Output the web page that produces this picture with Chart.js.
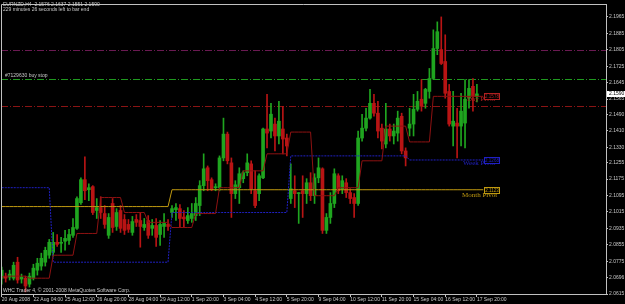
<!DOCTYPE html>
<html>
<head>
<meta charset="utf-8">
<script src="https://cdn.jsdelivr.net/npm/chart.js@4.4.1/dist/chart.umd.min.js"></script>
<style>
  html, body { margin: 0; background: #000; }
  #wrap { width: 625px; height: 304px; position: relative; }
</style>
</head>
<body>
<div id="wrap"><canvas id="chart"></canvas></div>
<script>
// EURNZD H4 candles, bar 0 = 20 Aug 2008 20:00, last bar = 17 Sep 20:00
const opens = [2.0692,2.0702,2.0697,2.0692,2.0770,2.0688,2.0692,2.0663,2.0692,2.0731,2.0751,2.0770,2.0804,2.0818,2.0867,2.0862,2.0872,2.0876,2.0901,2.0935,
  2.1060,2.1172,2.1123,2.1138,2.1022,2.1036,2.1007,2.0901,2.1056,2.0944,2.1022,2.0978,2.0954,2.0915,2.0978,2.0973,2.0939,2.0973,2.0935,2.0949,
  2.0905,2.0944,2.0954,2.1012,2.1026,2.1031,2.0990,2.0973,2.0983,2.0997,2.1046,2.1143,2.1230,2.1172,2.1133,2.1133,2.1278,2.1394,2.1254,2.1104,
  2.1133,2.1177,2.1206,2.1249,2.1118,2.1104,2.1181,2.1419,2.1409,2.1443,2.1385,2.1419,2.1375,2.1080,2.1118,2.1104,2.1118,2.1104,2.1157,2.1094,
  2.1181,2.1225,2.0925,2.0988,2.1056,2.1191,2.1128,2.1157,2.1109,2.1085,2.1056,2.1375,2.1423,2.1472,2.1544,2.1496,2.1423,2.1346,2.1419,2.1385,
  2.1399,2.1481,2.1312,2.1423,2.1443,2.1515,2.1564,2.1544,2.1602,2.1665,2.1811,2.1806,2.1748,2.1602,2.1433,2.1448,2.1433,2.1448,2.1569,2.1627,
  2.1576];
const highs = [2.0746,2.0717,2.0731,2.0770,2.0794,2.0712,2.0702,2.0717,2.0760,2.0789,2.0814,2.0843,2.0881,2.0915,2.0905,2.0891,2.0925,2.0930,2.0983,2.1089,
  2.1181,2.1283,2.1152,2.1143,2.1080,2.1089,2.1046,2.1007,2.1080,2.1031,2.1046,2.1002,2.0978,2.0993,2.1002,2.1012,2.0983,2.0997,2.0978,2.0983,
  2.0973,2.1007,2.0978,2.1046,2.1056,2.1051,2.1022,2.1036,2.1056,2.1085,2.1167,2.1298,2.1239,2.1181,2.1152,2.1288,2.1472,2.1404,2.1278,2.1167,
  2.1230,2.1215,2.1298,2.1264,2.1215,2.1201,2.1423,2.1588,2.1544,2.1472,2.1554,2.1530,2.1394,2.1249,2.1191,2.1109,2.1191,2.1177,2.1206,2.1201,
  2.1278,2.1230,2.1007,2.1109,2.1225,2.1201,2.1191,2.1177,2.1128,2.1104,2.1409,2.1491,2.1520,2.1612,2.1588,2.1554,2.1443,2.1544,2.1443,2.1443,
  2.1506,2.1496,2.1327,2.1520,2.1588,2.1602,2.1660,2.1617,2.1714,2.1902,2.1941,2.1965,2.1878,2.1636,2.1602,2.1520,2.1593,2.1660,2.1660,2.1665,
  2.1637];
const lows = [2.0663,2.0673,2.0683,2.0683,2.0668,2.0668,2.0625,2.0649,2.0683,2.0707,2.0731,2.0751,2.0789,2.0799,2.0847,2.0818,2.0828,2.0857,2.0891,2.0930,
  2.1051,2.1075,2.1070,2.1002,2.0983,2.0983,2.0935,2.0886,2.0915,2.0925,2.0915,2.0905,2.0915,2.0901,2.0944,2.0843,2.0925,2.0886,2.0901,2.0847,
  2.0852,2.0891,2.0925,2.0988,2.0973,2.0939,2.0939,2.0959,2.0964,2.0973,2.0997,2.1118,2.1118,2.1118,2.1118,2.1118,2.1264,2.1249,2.0988,2.1080,
  2.1056,2.1157,2.1191,2.1104,2.1036,2.1070,2.1177,2.1327,2.1375,2.1312,2.1346,2.1298,2.1288,2.1056,2.1036,2.0959,2.0988,2.1056,2.1070,2.1056,
  2.1157,2.0910,2.0910,2.0959,2.1036,2.1104,2.1104,2.1085,2.1056,2.0988,2.1046,2.1360,2.1409,2.1467,2.1481,2.1375,2.1322,2.1327,2.1360,2.1346,
  2.1360,2.1298,2.1239,2.1385,2.1385,2.1506,2.1506,2.1520,2.1569,2.1660,2.1781,2.1733,2.1569,2.1433,2.1336,2.1278,2.1336,2.1327,2.1520,2.1506,
  2.1551];
const closes = [2.0731,2.0692,2.0712,2.0755,2.0683,2.0697,2.0654,2.0702,2.0741,2.0765,2.0789,2.0828,2.0867,2.0867,2.0857,2.0864,2.0886,2.0905,2.0939,2.1080,
  2.1172,2.1118,2.1133,2.1012,2.1036,2.1012,2.0954,2.0988,2.0939,2.1012,2.0935,2.0925,2.0930,2.0968,2.0964,2.0944,2.0954,2.0901,2.0949,2.0891,
  2.0954,2.0959,2.0944,2.1031,2.1036,2.0983,2.0981,2.0997,2.1007,2.1056,2.1143,2.1225,2.1167,2.1123,2.1135,2.1278,2.1394,2.1264,2.1104,2.1147,
  2.1201,2.1206,2.1254,2.1128,2.1046,2.1191,2.1419,2.1399,2.1491,2.1385,2.1457,2.1370,2.1336,2.1128,2.1104,2.1106,2.1104,2.1157,2.1094,2.1181,
  2.1230,2.0925,2.0988,2.1056,2.1201,2.1118,2.1167,2.1109,2.1080,2.1056,2.1375,2.1423,2.1472,2.1544,2.1496,2.1409,2.1360,2.1419,2.1385,2.1409,
  2.1472,2.1312,2.1278,2.1443,2.1515,2.1554,2.1530,2.1612,2.1665,2.1811,2.1893,2.1738,2.1593,2.1443,2.1457,2.1433,2.1506,2.1564,2.1617,2.1578,
  2.1590];

// pivot levels (first bar of each period and its value)
const dayStarts = [0,1,7,13,19,25,31,37,43,49,55,61,67,73,79,85,91,97,103,109,115];
const dayPivot = [2.0697,2.0702,2.0692,2.0804,2.0910,2.1085,2.1012,2.0964,2.0939,2.1007,2.1133,2.1215,2.1298,2.1404,2.1094,2.1133,2.1264,2.1433,2.1356,2.1578,2.1578];
const weekStarts = [0,13,43,73,103];
const weekPivot = [2.1133,2.0770,2.1012,2.1288,2.1268];
const monthStarts = [0,43];
const monthPivot = [2.1041,2.1123];

// order lines
const levelPrices = [2.1806, 2.1665, 2.1530];
const buyStopLabel = '#7129630 buy stop';

// axis ticks
const xTickBars = [0,8,16,24,32,40,48,56,64,72,80,88,96,104,112,120];
const xTickLabels = ['20 Aug 2008','22 Aug 04:00','25 Aug 12:00','26 Aug 20:00','28 Aug 04:00','29 Aug 12:00','1 Sep 20:00','3 Sep 04:00',
  '4 Sep 12:00','5 Sep 20:00','9 Sep 04:00','10 Sep 12:00','11 Sep 20:00','15 Sep 04:00','16 Sep 12:00','17 Sep 20:00'];
const yTickValues = [2.1965,2.1885,2.1805,2.1725,2.1645,2.1565,2.1490,2.1410,2.1330,2.1255,2.1175,2.1095,2.1015,2.0935,2.0855,2.0775,2.0696,2.0615];
const yTickLabels = ['2.1965','2.1885','2.1805','2.1725','2.1645','2.1565','2.1490','2.1410','2.1330','2.1255','2.1175','2.1095','2.1015','2.0935','2.0855','2.0775','2.0696','2.0615'];

const symbolLine = 'EURNZD,H4  2.1576 2.1637 2.1551 2.1590';
const timerLine = '229 minutes 26 seconds left to bar end';
const footerLine = 'WHC Trader 4, \u00a9 2001-2008 MetaQuotes Software Corp.';

// colours
const UP = '#1fa51f', DOWN = '#b81414';
const AXIS = '#c0c0c0', TEXT = '#c8c8c8';
const DAY_C = '#8e1212', WEEK_C = '#2020c4', MONTH_C = '#c09a10';
const LEVEL_C = ['#6a1a52', '#1f9a1f', '#8a1414'];
const SANS = '"Liberation Sans", Arial, sans-serif';
const SERIF = '"Liberation Serif", "Times New Roman", serif';

const bars = opens.map((_, i) => i);
const lastBar = bars.length - 1;
const candleColor = i => closes[i] >= opens[i] ? UP : DOWN;

function expand(starts, values) {
  const pts = bars.map(i => {
    let k = 0;
    while (k + 1 < starts.length && starts[k + 1] <= i) k++;
    return { x: i, y: values[k] };
  });
  pts.push({ x: lastBar + 1.6, y: values[values.length - 1] }); // short run past last bar
  return pts;
}

const overlay = {
  id: 'overlay',
  beforeDatasetsDraw(chart) {
    const { ctx, chartArea: a, scales: { y } } = chart;
    ctx.save();
    ctx.lineWidth = 1;
    ctx.setLineDash([7, 2, 1, 2]);
    levelPrices.forEach((p, k) => {
      const py = Math.round(y.getPixelForValue(p)) + 0.5;
      ctx.strokeStyle = LEVEL_C[k];
      ctx.beginPath(); ctx.moveTo(a.left, py); ctx.lineTo(a.right, py); ctx.stroke();
    });
    ctx.restore();
  },
  afterDraw(chart) {
    const { ctx, chartArea: a, scales: { y } } = chart;
    ctx.save();
    // frame left / top
    ctx.strokeStyle = AXIS; ctx.lineWidth = 1;
    ctx.beginPath();
    ctx.moveTo(a.left + 0.5, a.bottom); ctx.lineTo(a.left + 0.5, a.top + 0.5); ctx.lineTo(a.right, a.top + 0.5);
    ctx.stroke();

    ctx.fillStyle = TEXT;
    ctx.font = '5px ' + SANS;
    ctx.textBaseline = 'middle';
    ctx.textAlign = 'left';
    ctx.fillText(symbolLine, 3, 5);
    ctx.fillText(timerLine, 3, 9.5);
    ctx.fillText(footerLine, 3, 291);
    ctx.fillText(buyStopLabel, 5, y.getPixelForValue(levelPrices[1]) - 3);

    // pivot names and price boxes
    const piv = [
      [dayPivot[dayPivot.length - 1], 'Day Pivot', '#b02020', 467, 3],
      [weekPivot[weekPivot.length - 1], 'Week Pivot', WEEK_C, 463, 3],
      [monthPivot[monthPivot.length - 1], 'Month Pivot', MONTH_C, 462, 5]
    ];
    piv.forEach(([v, name, col, tx, dy]) => {
      const py = y.getPixelForValue(v);
      ctx.font = '7px ' + SERIF;
      ctx.fillStyle = col;
      ctx.textAlign = 'left';
      ctx.fillText(name, tx, py + dy);
      ctx.fillStyle = '#000';
      ctx.fillRect(484, Math.round(py) - 3, 15, 6);
      ctx.strokeStyle = col;
      ctx.strokeRect(484.5, Math.round(py) - 2.5, 15, 6);
      ctx.font = '4.5px ' + SANS;
      ctx.fillStyle = col;
      ctx.textAlign = 'center';
      ctx.fillText(v.toFixed(4), 492, Math.round(py) + 0.5);
    });

    // current price marker on the axis
    const cy = y.getPixelForValue(closes[lastBar]);
    ctx.fillStyle = '#fff';
    ctx.fillRect(607, Math.round(cy) - 3, 18, 6);
    ctx.fillStyle = '#000';
    ctx.font = '5px ' + SANS;
    ctx.textAlign = 'left';
    ctx.fillText(closes[lastBar].toFixed(4), 609, Math.round(cy));
    ctx.restore();
  }
};

new Chart(document.getElementById('chart'), {
  type: 'bar',
  data: {
    datasets: [
      { type: 'line', label: 'Day Pivot', data: expand(dayStarts, dayPivot), borderColor: DAY_C, borderWidth: 1, pointRadius: 0, tension: 0, order: 0 },
      { type: 'line', label: 'Week Pivot', data: expand(weekStarts, weekPivot), borderColor: WEEK_C, borderWidth: 1, borderDash: [2, 1], pointRadius: 0, tension: 0, order: 0 },
      { type: 'line', label: 'Month Pivot', data: expand(monthStarts, monthPivot), borderColor: MONTH_C, borderWidth: 1, pointRadius: 0, tension: 0, order: 0 },
      { label: 'wick', data: bars.map(i => ({ x: i, y: [lows[i], highs[i]] })),
        backgroundColor: c => candleColor(c.dataIndex), barThickness: 1, grouped: false, borderWidth: 0, order: 2 },
      { label: 'body', data: bars.map(i => ({ x: i, y: [opens[i], closes[i]] })),
        backgroundColor: c => candleColor(c.dataIndex), barThickness: 3, grouped: false, borderWidth: 0, minBarLength: 1, order: 1 }
    ]
  },
  plugins: [overlay],
  options: {
    responsive: true,
    maintainAspectRatio: false,
    animation: false,
    devicePixelRatio: 1,
    layout: { padding: { left: 1, top: 2, right: 0, bottom: 0 } },
    plugins: { legend: { display: false }, tooltip: { enabled: false } },
    scales: {
      x: {
        type: 'linear', min: -0.18, max: 152.6, offset: false,
        afterBuildTicks: s => { s.ticks = xTickBars.map(v => ({ value: v })); },
        afterFit: s => { s.height = 10; },
        ticks: { color: TEXT, font: { family: SANS, size: 5 }, padding: 0, align: 'start', maxRotation: 0, autoSkip: false,
          callback: (v, i) => xTickLabels[i] },
        grid: { drawOnChartArea: false, drawTicks: true, tickLength: 3, color: AXIS, offset: false },
        border: { color: AXIS }
      },
      y: {
        type: 'linear', position: 'right', min: 2.0615, max: 2.2028,
        afterBuildTicks: s => { s.ticks = yTickValues.map(v => ({ value: v })); },
        afterFit: s => { s.width = 19; },
        ticks: { color: TEXT, font: { family: SANS, size: 5 }, padding: 1, callback: (v, i) => yTickLabels[i] },
        grid: { drawOnChartArea: false, drawTicks: true, tickLength: 2, color: AXIS },
        border: { color: AXIS }
      }
    }
  }
});
</script>
</body>
</html>
